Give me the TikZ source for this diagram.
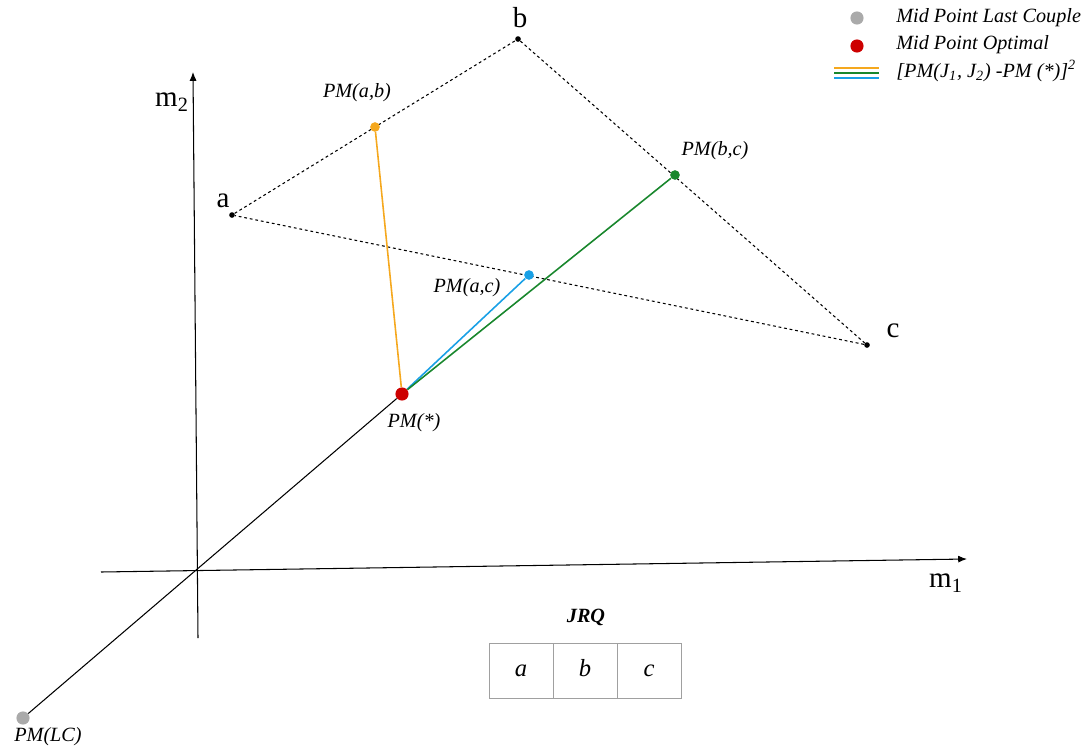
\documentclass[tikz,border=0pt]{standalone}
\usepackage{fontspec}
\setmainfont{Liberation Serif}
\usetikzlibrary{arrows.meta}
\definecolor{cOrange}{RGB}{245,168,30}
\definecolor{cGreen}{RGB}{25,135,45}
\definecolor{cBlue}{RGB}{25,160,230}
\definecolor{cRed}{RGB}{205,0,0}
\definecolor{cGray}{RGB}{170,170,170}
\definecolor{cCell}{RGB}{160,160,160}
\begin{document}
\begin{tikzpicture}[x=0.02cm,y=-0.02cm,
  axis/.style={line width=0.6pt,black},
  tri/.style={line width=0.6pt,dash pattern=on 1.6pt off 1.6pt},
  vtx/.style={circle,fill=black,inner sep=0pt,minimum size=3.2pt},
  mid/.style={circle,inner sep=0pt,minimum size=5.5pt},
  big/.style={circle,inner sep=0pt,minimum size=7.5pt},
  lbl/.style={font=\fontsize{11.5}{13}\selectfont\itshape,inner sep=0pt},
  vlbl/.style={font=\fontsize{16.5}{18}\selectfont,inner sep=0pt},
  link/.style={line width=0.9pt},
  cell/.style={draw=cCell,line width=0.5pt,minimum width=64*0.02cm,minimum height=55*0.02cm,inner sep=0pt,text height=1.6ex,text depth=0.2ex,font=\fontsize{14}{16}\selectfont\itshape}
]
\useasboundingbox (0,0) rectangle (1086,748);
% axes
\coordinate (m2b) at (198,638);
\coordinate (m2t) at (193,72);
\coordinate (m1l) at (101,572);
\coordinate (m1r) at (967,559);
\draw[axis,-{Latex[length=5pt,width=4pt]}] (m2b) -- (m2t);
\draw[axis,-{Latex[length=5pt,width=4pt]}] (m1l) -- (m1r);
\node[vlbl] (lm2) at (172,102) {m\textsubscript{2}};
\node[vlbl] (lm1) at (946,583) {m\textsubscript{1}};
% triangle vertices
\node[vtx] (a) at (232,215) {};
\node[vtx] (b) at (518,39) {};
\node[vtx] (c) at (867,345) {};
\node[vlbl] (la) at (223,201) {a};
\node[vlbl] (lb) at (520,18) {b};
\node[vlbl] (lc) at (893,331) {c};
\draw[tri] (a) -- (b) -- (c) -- (a);
% points
\node[big,fill=cGray] (lc0) at (23,718) {};
\node[big,fill=cRed] (star) at (402,394) {};
\node[mid,fill=cOrange] (ab) at (375,127) {};
\node[mid,fill=cGreen] (bc) at (675,175) {};
\node[mid,fill=cBlue] (ac) at (529,275) {};
\draw[axis] (lc0) -- (star);
\draw[link,cOrange] (star) -- (ab);
\draw[link,cBlue] (star) -- (ac);
\draw[link,cGreen] (star) -- (bc);
\node[lbl] (lab) at (357,93) {PM(a,b)};
\node[lbl] (lbc) at (715,151) {PM(b,c)};
\node[lbl] (lac) at (467,288) {PM(a,c)};
\node[lbl] (lstar) at (414,423) {PM(*)};
\node[lbl] (llc) at (48,737) {PM(LC)};
% legend
\node[big,fill=cGray] (g1) at (857,18) {};
\node[big,fill=cRed] (g2) at (857,46) {};
\coordinate (g3l) at (834,68);
\coordinate (g3r) at (879,68);
\coordinate (g4l) at (834,73);
\coordinate (g4r) at (879,73);
\coordinate (g5l) at (834,78);
\coordinate (g5r) at (879,78);
\draw[line width=0.8pt,cOrange] (g3l) -- (g3r);
\draw[line width=0.8pt,cGreen] (g4l) -- (g4r);
\draw[line width=0.8pt,cBlue] (g5l) -- (g5r);
\node[lbl,anchor=west] (t1) at (896,18) {Mid Point Last Couple};
\node[lbl,anchor=west] (t2) at (896,45) {Mid Point Optimal};
\node[lbl,anchor=west] (t3) at (896,71) {[PM(J\textsubscript{1}, J\textsubscript{2}) -PM (*)]\textsuperscript{2}};
% JRQ table
\node[lbl,font=\fontsize{11.5}{13}\selectfont\bfseries\itshape] (jrq) at (586,617) {JRQ};
\node[cell] (ca) at (521,670.5) {a};
\node[cell] (cb) at (585,670.5) {b};
\node[cell] (cc) at (649,670.5) {c};
\end{tikzpicture}
\end{document}
